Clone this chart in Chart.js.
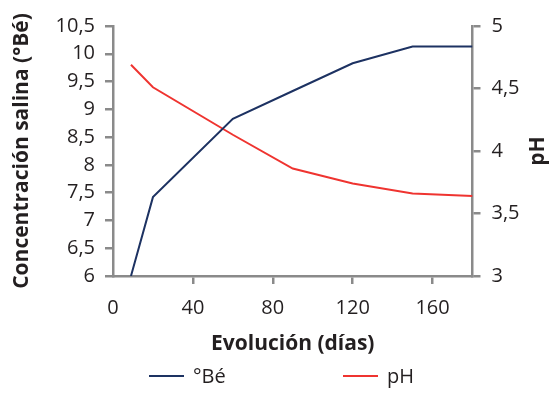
<!DOCTYPE html>
<html>
<head>
<meta charset="utf-8">
<script src="https://cdn.jsdelivr.net/npm/chart.js@4/dist/chart.umd.min.js"></script>
<style>
  html, body { margin: 0; padding: 0; background: #ffffff; }
  #wrap { width: 555px; height: 393px; }
</style>
</head>
<body>
<div id="wrap"><canvas id="c" width="555" height="393"></canvas></div>
<script>
// Sampling days and measured values
const days = [9, 20, 60, 90, 120, 150, 180];
const beValues = [6.0, 7.42, 8.83, 9.33, 9.83, 10.13, 10.13];
const phValues = [4.69, 4.51, 4.13, 3.86, 3.74, 3.66, 3.64];
const seriesNames = ['°Bé', 'pH'];

// Axis ticks
const dayTicks = [0, 40, 80, 120, 160];
const beTicks = [6, 6.5, 7, 7.5, 8, 8.5, 9, 9.5, 10, 10.5];
const phTicks = [3, 3.5, 4, 4.5, 5];

const FONT = "'Open Sans', 'Noto Sans', sans-serif";
const TEXT = '#231f20';
const AXIS = '#8a8a8a';
const NAVY = '#1d3262';
const RED = '#ef3430';

const comma = v => String(v).replace('.', ',');
const toPoints = (xs, ys) => xs.map((x, i) => ({ x: x, y: ys[i] }));

// Right-hand title (reads bottom to top) and the legend under the axis title
const extras = {
  id: 'extras',
  afterDraw(chart) {
    const ctx = chart.ctx;
    ctx.save();
    ctx.fillStyle = TEXT;
    ctx.font = "bold 21px " + FONT;
    ctx.textAlign = 'center';
    ctx.textBaseline = 'middle';
    ctx.translate(538, 151);
    ctx.rotate(-Math.PI / 2);
    ctx.fillText(seriesNames[1], 0, 0);
    ctx.restore();

    ctx.save();
    const starts = [149, 343];
    const y = 376;
    ctx.font = "20px " + FONT;
    ctx.textBaseline = 'middle';
    ctx.textAlign = 'left';
    chart.data.datasets.forEach((ds, i) => {
      const x0 = starts[i];
      ctx.strokeStyle = ds.borderColor;
      ctx.lineWidth = 2;
      ctx.beginPath();
      ctx.moveTo(x0, y);
      ctx.lineTo(x0 + 35, y);
      ctx.stroke();
      ctx.fillStyle = TEXT;
      ctx.fillText(ds.label, x0 + 44, y + 1);
    });
    ctx.restore();
  }
};

const gridOpts = {
  drawOnChartArea: false,
  drawTicks: true,
  tickLength: 8,
  lineWidth: 2.5,
  tickWidth: 2.5,
  color: AXIS,
  tickColor: AXIS
};

new Chart(document.getElementById('c'), {
  type: 'line',
  data: {
    datasets: [
      {
        label: seriesNames[0],
        data: toPoints(days, beValues),
        yAxisID: 'y',
        borderColor: NAVY,
        backgroundColor: NAVY,
        borderWidth: 2,
        pointRadius: 0,
        tension: 0
      },
      {
        label: seriesNames[1],
        data: toPoints(days, phValues),
        yAxisID: 'y1',
        borderColor: RED,
        backgroundColor: RED,
        borderWidth: 2,
        pointRadius: 0,
        tension: 0
      }
    ]
  },
  options: {
    responsive: false,
    animation: false,
    layout: { padding: { left: 0, right: 0, top: 26, bottom: 33 } },
    plugins: {
      legend: { display: false },
      tooltip: { enabled: false }
    },
    scales: {
      x: {
        type: 'linear',
        min: 0,
        max: 180,
        afterBuildTicks: s => { s.ticks = dayTicks.map(v => ({ value: v })); },
        afterFit: s => { s.height = 84; },
        border: { color: AXIS, width: 2.5 },
        grid: Object.assign({}, gridOpts, {
          tickColor: c => (c.tick && c.tick.value === 0) ? 'rgba(0,0,0,0)' : AXIS
        }),
        ticks: {
          padding: 12,
          color: TEXT,
          autoSkip: false,
          maxRotation: 0,
          font: { family: FONT, size: 20 },
          callback: v => comma(v)
        },
        title: {
          display: true,
          text: 'Evolución (días)',
          color: TEXT,
          font: { family: FONT, size: 21, weight: 'bold' },
          padding: { top: 0, bottom: 3 }
        }
      },
      y: {
        position: 'left',
        min: 6,
        max: 10.5,
        afterBuildTicks: s => { s.ticks = beTicks.map(v => ({ value: v })); },
        afterFit: s => { s.width = 113; },
        border: { color: AXIS, width: 2.5 },
        grid: gridOpts,
        ticks: {
          padding: 10,
          color: TEXT,
          autoSkip: false,
          font: { family: FONT, size: 20 },
          callback: v => comma(v)
        },
        title: {
          display: true,
          text: 'Concentración salina (°Bé)',
          color: TEXT,
          font: { family: FONT, size: 21, weight: 'bold' },
          padding: { top: 9, bottom: 0 }
        }
      },
      y1: {
        position: 'right',
        min: 3,
        max: 5,
        afterBuildTicks: s => { s.ticks = phTicks.map(v => ({ value: v })); },
        afterFit: s => { s.width = 82.5; },
        border: { color: AXIS, width: 2.5 },
        grid: gridOpts,
        ticks: {
          padding: 11,
          color: TEXT,
          autoSkip: false,
          font: { family: FONT, size: 20 },
          callback: v => comma(v)
        }
      }
    }
  },
  plugins: [extras]
});
</script>
</body>
</html>
